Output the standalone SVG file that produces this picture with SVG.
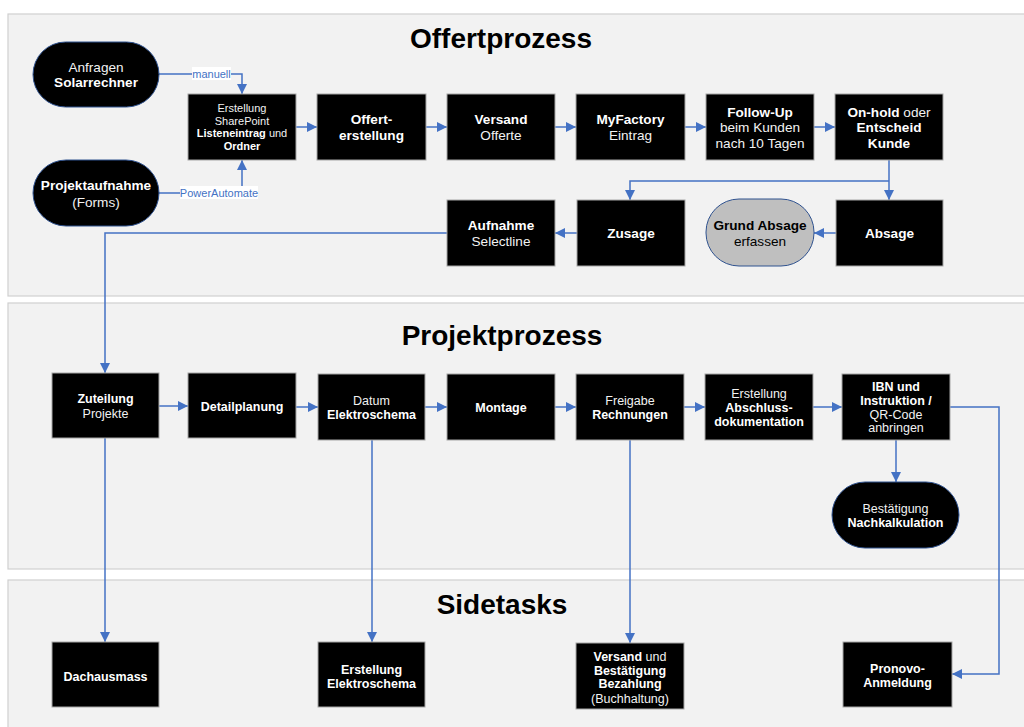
<svg xmlns="http://www.w3.org/2000/svg" width="1024" height="727" viewBox="0 0 1024 727">
<defs>
<style>
text{font-family:"Liberation Sans",Arial,sans-serif;text-anchor:middle}
.lane{fill:#f2f2f2;stroke:#d0d0d0;stroke-width:1.2}
.title{font-size:28px;font-weight:bold;fill:#000}
.box{fill:#000;stroke:#a6a6a6;stroke-width:1}
.term{fill:#000;stroke:#2f528f;stroke-width:1}
.t{fill:#f2f2f2}
.b{font-weight:bold;fill:#fff}
.f14{font-size:13.6px}
.f12{font-size:12.5px}
.f11{font-size:11px}
.con{fill:none;stroke:#4472c4;stroke-width:1.5;marker-end:url(#ah)}
.lbl{font-size:11px;fill:#4472c4}
</style>
<marker id="ah" markerUnits="userSpaceOnUse" markerWidth="10" markerHeight="10" refX="10" refY="5" orient="auto" viewBox="0 0 10 10">
<path d="M0,0 L10,5 L0,10 z" fill="#4472c4"/>
</marker>
</defs>
<rect width="1024" height="727" fill="#fff"/>
<g id="lanes">
<rect class="lane" x="8" y="14" width="1030" height="282"/>
<rect class="lane" x="8" y="303" width="1030" height="266"/>
<rect class="lane" x="8" y="580" width="1030" height="160"/>
<text class="title" x="501" y="48">Offertprozess</text>
<text class="title" x="502" y="345">Projektprozess</text>
<text class="title" x="502" y="614">Sidetasks</text>
</g>
<g id="connectors">
<path class="con" d="M159,74 H242 V94"/>
<path class="con" d="M159,193 H242 V160"/>
<path class="con" d="M296,127 H317"/>
<path class="con" d="M426,127 H447"/>
<path class="con" d="M555,127 H576"/>
<path class="con" d="M685,127 H706"/>
<path class="con" d="M814,127 H835"/>
<path class="con" d="M889,160 V200"/>
<path class="con" d="M889,181 H630 V200"/>
<path class="con" d="M836,233 H814"/>
<path class="con" d="M577,233 H555"/>
<path class="con" d="M447,233 H105 V373"/>
<path class="con" d="M159,406 H188"/>
<path class="con" d="M296,407 H318"/>
<path class="con" d="M425,407 H447"/>
<path class="con" d="M555,407 H576"/>
<path class="con" d="M684,407 H705"/>
<path class="con" d="M813,407 H842"/>
<path class="con" d="M896,440 V482"/>
<path class="con" d="M950,407 H999 V674 H952"/>
<path class="con" d="M105,438 V642"/>
<path class="con" d="M372,440 V642"/>
<path class="con" d="M630,440 V643"/>
<rect x="192" y="67" width="39" height="13" fill="#fff"/>
<text class="lbl" x="211.5" y="78">manuell</text>
<rect x="180" y="186" width="78" height="13" fill="#fff"/>
<text class="lbl" x="219" y="197">PowerAutomate</text>
</g>
<g id="n-anfragen">
<rect class="term" x="33" y="42" width="126" height="65" rx="32.5"/>
<text class="f14" x="96" y="72"><tspan class="t">Anfragen</tspan></text>
<text class="f14 b" x="96" y="87">Solarrechner</text>
</g>
<g id="n-projektaufnahme">
<rect class="term" x="33" y="160" width="126" height="66" rx="33"/>
<text class="f14 b" x="96" y="190">Projektaufnahme</text>
<text class="f14 t" x="96" y="207">(Forms)</text>
</g>
<g id="n-sharepoint">
<rect class="box" x="188" y="94" width="108" height="66"/>
<text class="f11 t" x="242" y="112">Erstellung</text>
<text class="f11 t" x="242" y="124.5">SharePoint</text>
<text class="f11 t" x="242" y="137"><tspan class="b">Listeneintrag</tspan> und</text>
<text class="f11 b" x="242" y="149.5">Ordner</text>
</g>
<g id="n-offerterstellung">
<rect class="box" x="317" y="94" width="109" height="66"/>
<text class="f14 b" x="371.5" y="124">Offert-</text>
<text class="f14 b" x="371.5" y="140">erstellung</text>
</g>
<g id="n-versand">
<rect class="box" x="447" y="94" width="108" height="66"/>
<text class="f14 b" x="501" y="124">Versand</text>
<text class="f14 t" x="501" y="140">Offerte</text>
</g>
<g id="n-myfactory">
<rect class="box" x="576" y="94" width="109" height="66"/>
<text class="f14 b" x="630.5" y="124">MyFactory</text>
<text class="f14 t" x="630.5" y="140">Eintrag</text>
</g>
<g id="n-followup">
<rect class="box" x="706" y="94" width="108" height="66"/>
<text class="f14 b" x="760" y="117">Follow-Up</text>
<text class="f14 t" x="760" y="132">beim Kunden</text>
<text class="f14 t" x="760" y="148">nach 10 Tagen</text>
</g>
<g id="n-onhold">
<rect class="box" x="835" y="94" width="108" height="66"/>
<text class="f14 t" x="889" y="117"><tspan class="b">On-hold</tspan> oder</text>
<text class="f14 b" x="889" y="132">Entscheid</text>
<text class="f14 b" x="889" y="148">Kunde</text>
</g>
<g id="n-aufnahme">
<rect class="box" x="447" y="200" width="108" height="66"/>
<text class="f14 b" x="501" y="230">Aufnahme</text>
<text class="f14 t" x="501" y="246">Selectline</text>
</g>
<g id="n-zusage">
<rect class="box" x="577" y="200" width="108" height="66"/>
<text class="f14 b" x="631" y="238">Zusage</text>
</g>
<g id="n-grund">
<rect x="706" y="199" width="108" height="67" rx="33" fill="#bfbfbf" stroke="#2f528f" stroke-width="1"/>
<text class="f14" x="760" y="230" font-weight="bold" fill="#000">Grund Absage</text>
<text class="f14" x="760" y="246" fill="#000">erfassen</text>
</g>
<g id="n-absage">
<rect class="box" x="836" y="200" width="107" height="66"/>
<text class="f14 b" x="889.5" y="238">Absage</text>
</g>
<g id="n-zuteilung">
<rect class="box" x="52" y="373" width="107" height="65"/>
<text class="f12 b" x="105.5" y="402.5">Zuteilung</text>
<text class="f12 t" x="105.5" y="417.5">Projekte</text>
</g>
<g id="n-detailplanung">
<rect class="box" x="188" y="373" width="108" height="65"/>
<text class="f12 b" x="242" y="410.5">Detailplanung</text>
</g>
<g id="n-datum">
<rect class="box" x="318" y="374" width="107" height="66"/>
<text class="f12 t" x="371.5" y="404.5">Datum</text>
<text class="f12 b" x="371.5" y="418.5">Elektroschema</text>
</g>
<g id="n-montage">
<rect class="box" x="447" y="374" width="108" height="66"/>
<text class="f12 b" x="501" y="411.5">Montage</text>
</g>
<g id="n-freigabe">
<rect class="box" x="576" y="374" width="108" height="66"/>
<text class="f12 t" x="630" y="404.5">Freigabe</text>
<text class="f12 b" x="630" y="418.5">Rechnungen</text>
</g>
<g id="n-abschluss">
<rect class="box" x="705" y="374" width="108" height="66"/>
<text class="f12 t" x="759" y="397.5">Erstellung</text>
<text class="f12 b" x="759" y="411.5">Abschluss-</text>
<text class="f12 b" x="759" y="425.5">dokumentation</text>
</g>
<g id="n-ibn">
<rect class="box" x="842" y="374" width="108" height="66"/>
<text class="f12 b" x="896" y="390.5">IBN und</text>
<text class="f12 b" x="896" y="404.5">Instruktion /</text>
<text class="f12 t" x="896" y="418.5">QR-Code</text>
<text class="f12 t" x="896" y="432">anbringen</text>
</g>
<g id="n-nachkalkulation">
<rect class="term" x="832" y="482" width="127" height="66" rx="33"/>
<text class="f12 t" x="895.5" y="512.5">Bestätigung</text>
<text class="f12 b" x="895.5" y="526.5">Nachkalkulation</text>
</g>
<g id="n-dachausmass">
<rect class="box" x="52" y="642" width="107" height="65"/>
<text class="f12 b" x="105.5" y="680.5">Dachausmass</text>
</g>
<g id="n-elektroschema">
<rect class="box" x="318" y="642" width="107" height="65"/>
<text class="f12 b" x="371.5" y="673.5">Erstellung</text>
<text class="f12 b" x="371.5" y="687.5">Elektroschema</text>
</g>
<g id="n-bezahlung">
<rect class="box" x="576" y="643" width="108" height="66"/>
<text class="f12 t" x="630" y="660.5"><tspan class="b">Versand</tspan> und</text>
<text class="f12 b" x="630" y="674.5">Bestätigung</text>
<text class="f12 b" x="630" y="688">Bezahlung</text>
<text class="f12 t" x="630" y="702.5">(Buchhaltung)</text>
</g>
<g id="n-pronovo">
<rect class="box" x="843" y="642" width="109" height="65"/>
<text class="f12 b" x="897.5" y="672.5">Pronovo-</text>
<text class="f12 b" x="897.5" y="686.5">Anmeldung</text>
</g>
</svg>
